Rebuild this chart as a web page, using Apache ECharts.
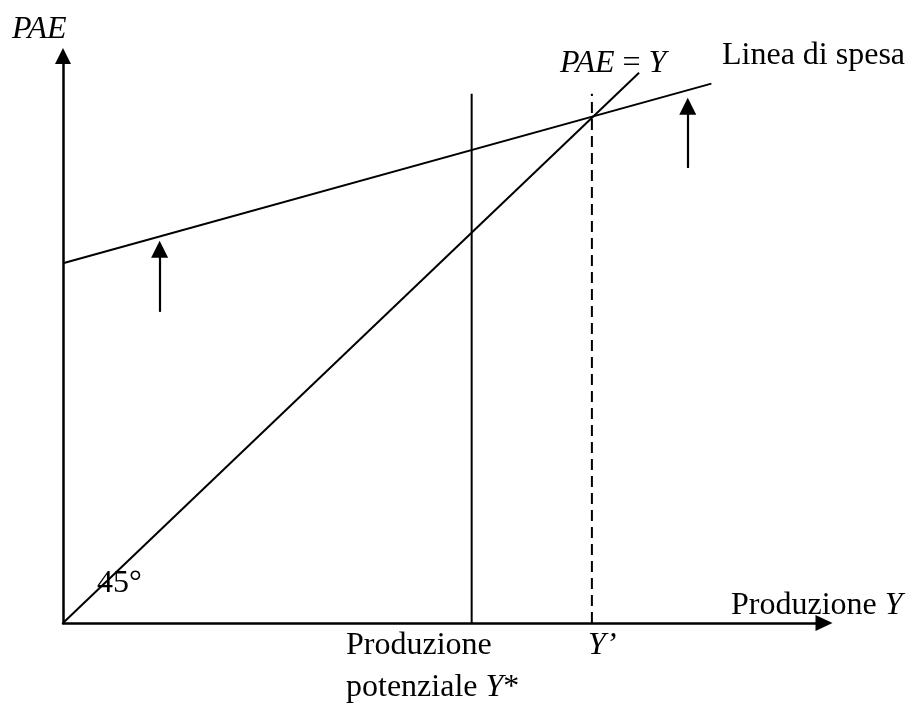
<!DOCTYPE html>
<html>
<head>
<meta charset="utf-8">
<script src="https://cdn.jsdelivr.net/npm/echarts@6/dist/echarts.min.js"></script>
<style>
  html, body {margin:0; padding:0; background:#fff;}
  #main {width:917px; height:703px;}
</style>
</head>
<body>
<div id="main"></div>
<script>
// valori (unità arbitrarie, 45° => PAE = Y)
const retta45 = [[0, 0], [75.7, 75.7]];
const lineaSpesa = [[0, 49.5], [85.2, 74.2]];
const produzionePotenziale = [[53.7, 0], [53.7, 72.8]];
const produzioneYprimo = [[69.5, 0], [69.5, 72.8]];
const frecce = [
  [[12.7, 42.8], [12.7, 51.4]],
  [[82.1, 62.6], [82.1, 71.1]]
];

const font = '"Liberation Serif", "Times New Roman", serif';
const nero = '#000';

var myChart = echarts.init(document.getElementById('main'));

const testo = (x, y, text, rich, align) => ({
  type: 'text',
  x: x, y: y,
  style: {
    text: text,
    fontFamily: font,
    fontSize: 32,
    fill: nero,
    textAlign: align || 'left',
    textVerticalAlign: 'bottom',
    rich: rich || {}
  }
});
const it = {i: {fontStyle: 'italic', fontFamily: font, fontSize: 32}};

myChart.setOption({
  animation: false,
  grid: {left: 63, right: 93, top: 56, bottom: 80},
  xAxis: {
    type: 'value', min: 0, max: 100,
    axisLine: {show: true, onZero: false, symbol: ['none', 'triangle'], symbolSize: [16, 17],
      lineStyle: {color: nero, width: 2.5}},
    axisTick: {show: false}, axisLabel: {show: false}, splitLine: {show: false}
  },
  yAxis: {
    type: 'value', min: 0, max: 78,
    axisLine: {show: true, onZero: false, symbol: ['none', 'triangle'], symbolSize: [16, 16],
      lineStyle: {color: nero, width: 2.5}},
    axisTick: {show: false}, axisLabel: {show: false}, splitLine: {show: false}
  },
  series: [
    {type: 'line', data: retta45, symbol: 'none', lineStyle: {color: nero, width: 2}},
    {type: 'line', data: lineaSpesa, symbol: 'none', lineStyle: {color: nero, width: 2}},
    {type: 'line', data: produzionePotenziale, symbol: 'none', lineStyle: {color: nero, width: 2}},
    {type: 'line', data: produzioneYprimo, symbol: 'none', lineStyle: {color: nero, width: 2, type: [11, 6]}},
    {
      type: 'lines', coordinateSystem: 'cartesian2d',
      data: frecce.map(c => ({coords: c})),
      symbol: ['none', 'triangle'], symbolSize: [17, 17],
      lineStyle: {color: nero, width: 2.2, opacity: 1}
    }
  ],
  graphic: [
    testo(12, 46, '{i|PAE}', it),
    testo(560, 80, '{i|PAE} = {i|Y}', it),
    testo(722, 72, 'Linea di spesa'),
    testo(97, 600, '45°'),
    testo(731, 622, 'Produzione {i|Y}', it),
    testo(346, 662, 'Produzione'),
    testo(346, 704, 'potenziale {i|Y}*', it),
    testo(588, 662, '{i|Y’}', it)
  ]
});
</script>
</body>
</html>
